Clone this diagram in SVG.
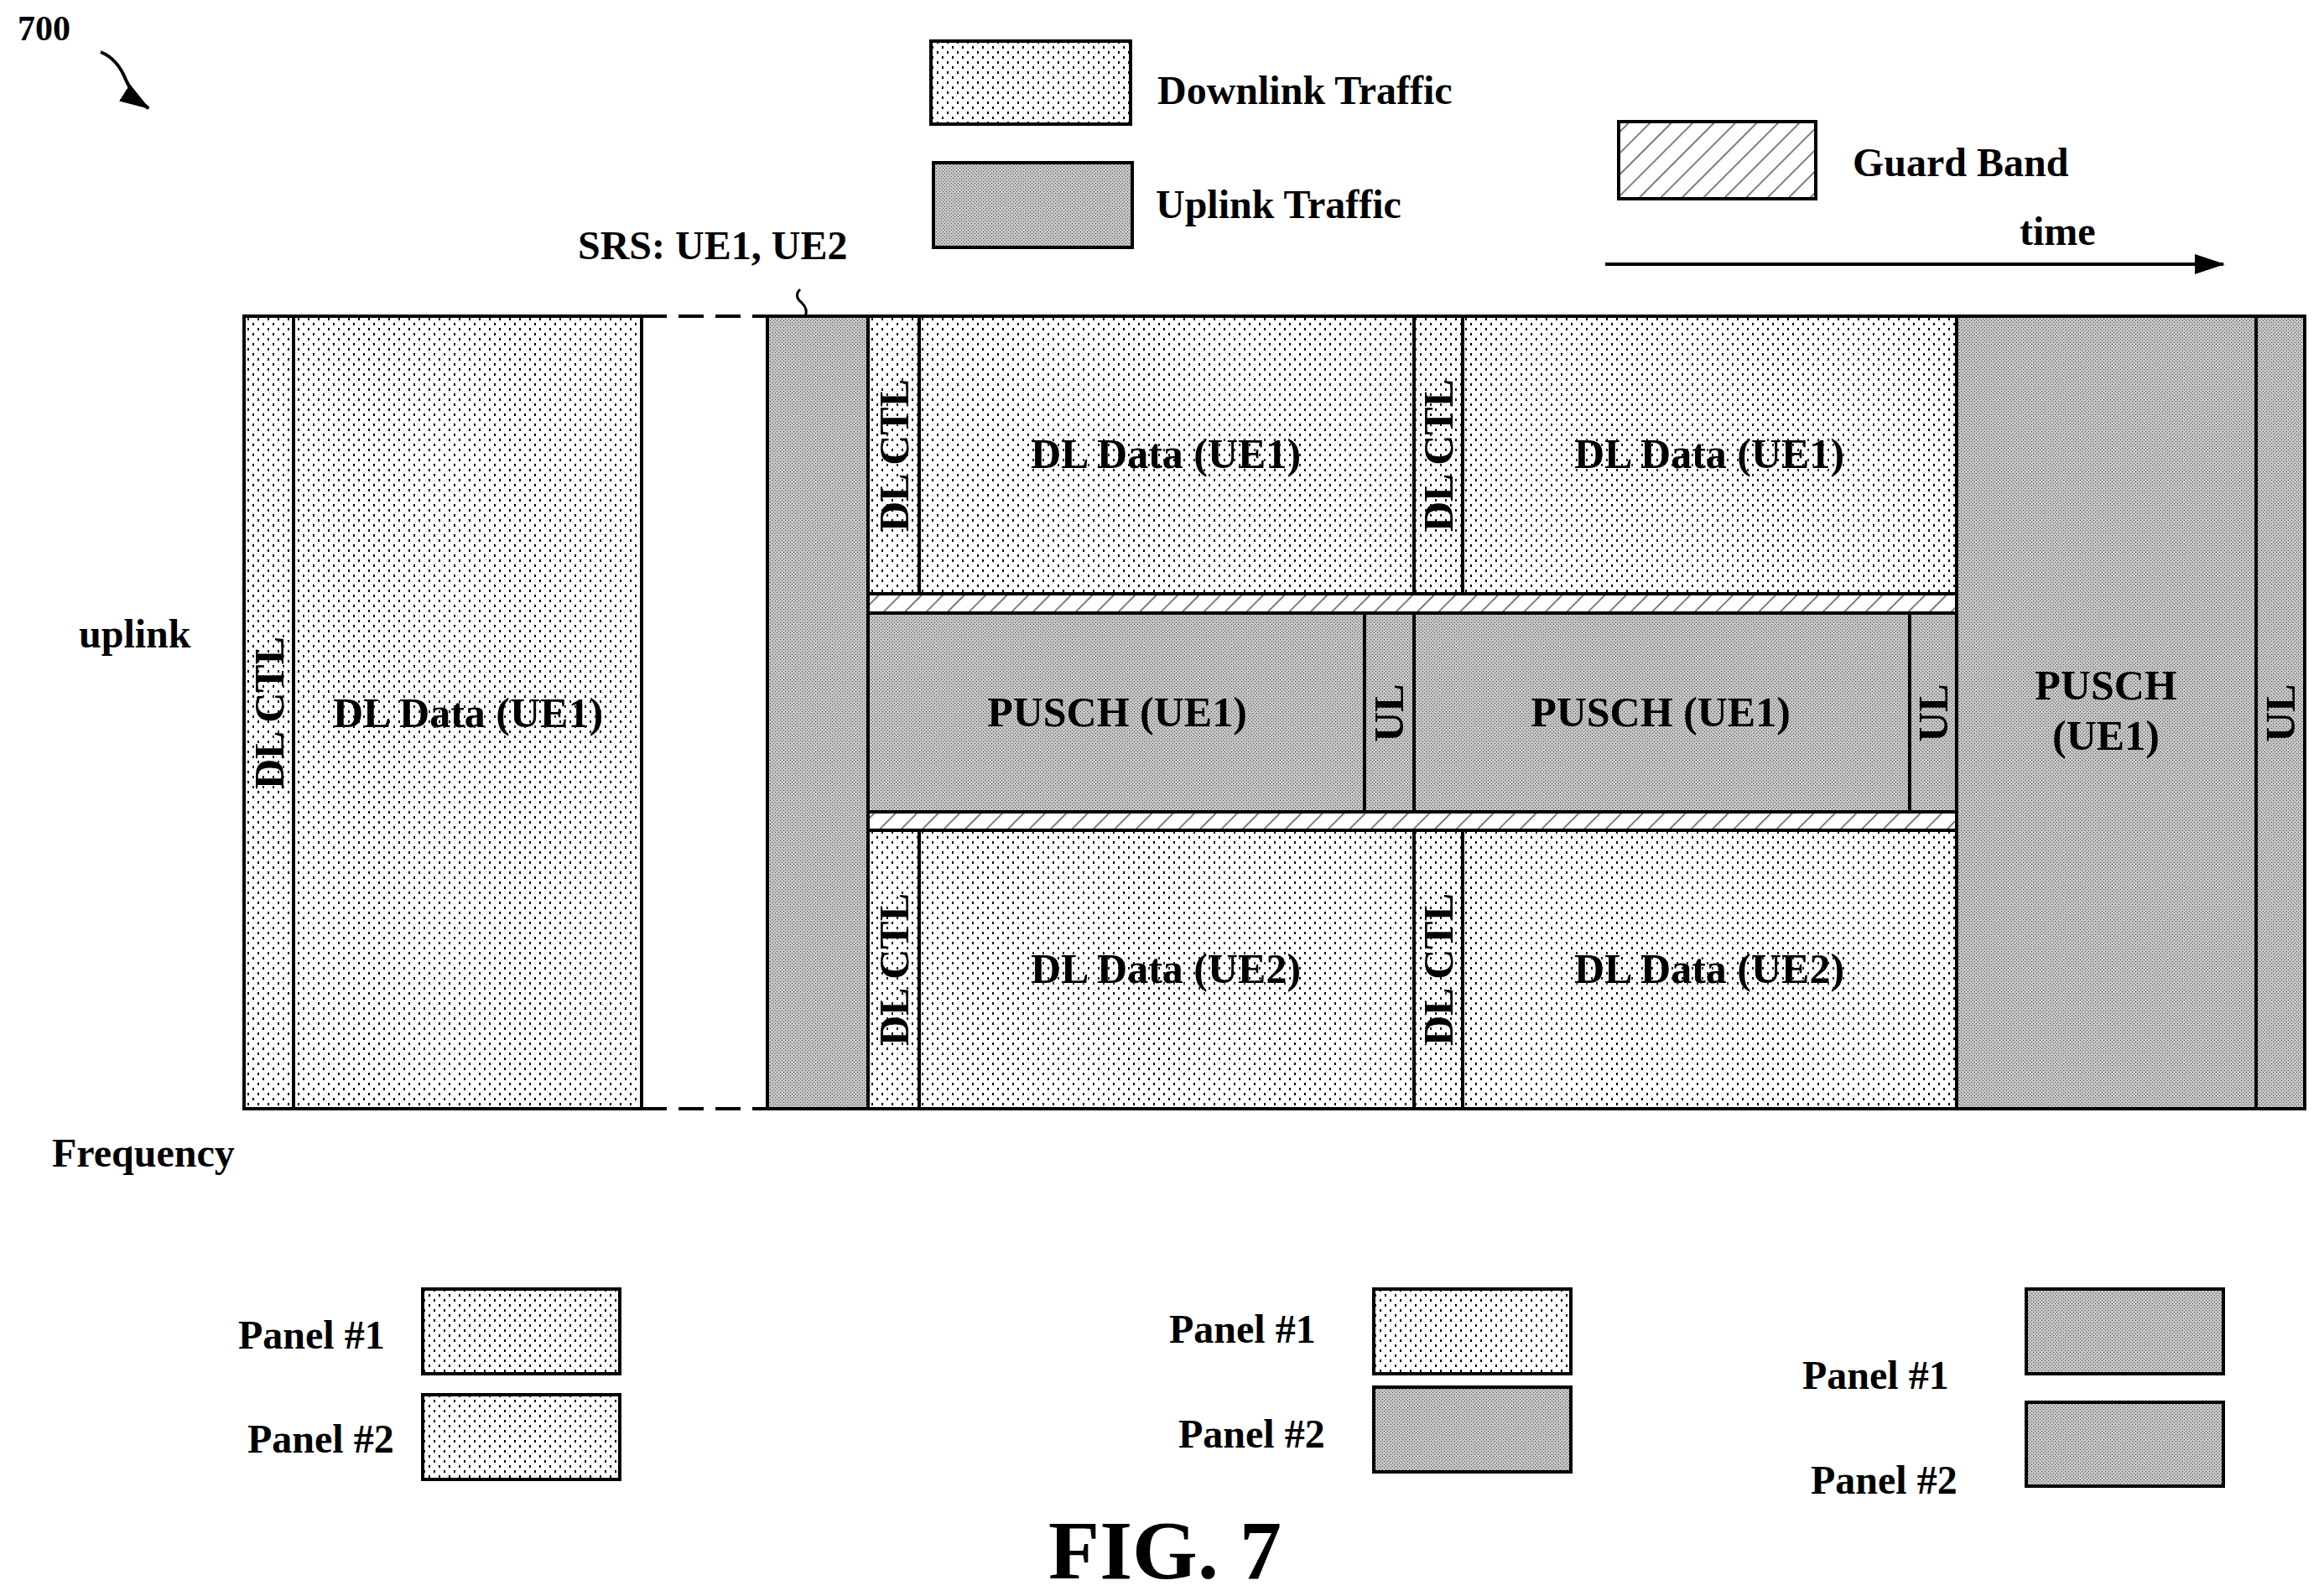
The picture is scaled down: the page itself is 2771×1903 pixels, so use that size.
<svg xmlns="http://www.w3.org/2000/svg" width="2771" height="1903" viewBox="0 0 2771 1903">
<style>
text{font-family:"Liberation Serif",serif;font-weight:bold;fill:#000}
.l{font-size:48px}
.c{font-size:50px;text-anchor:middle}
.dl{fill:url(#dots);stroke:#000;stroke-width:4}
.ul{fill:url(#dark);stroke:#000;stroke-width:4}
.gb{fill:url(#hatch);stroke:#000;stroke-width:4}
</style>
<defs>
<pattern id="dots" width="12" height="12" patternUnits="userSpaceOnUse">
<rect width="12" height="12" fill="#fff"/>
<rect x="1" y="1" width="2" height="3" fill="#000"/>
<rect x="7" y="7" width="2" height="3" fill="#000"/>
</pattern>
<pattern id="dark" width="4" height="4" patternUnits="userSpaceOnUse">
<rect width="4" height="4" fill="#c4c4c4"/>
<rect x="0" y="0" width="1" height="1" fill="#555"/>
<rect x="2" y="2" width="1" height="1" fill="#555"/>
</pattern>
<pattern id="hatch" width="18" height="18" patternUnits="userSpaceOnUse" patternTransform="rotate(45)">
<rect width="18" height="18" fill="#fff"/>
<rect x="0" y="0" width="1.5" height="18" fill="#555"/>
</pattern>
<marker id="ah" markerWidth="36" markerHeight="24" refX="34" refY="12" orient="auto" markerUnits="userSpaceOnUse" viewBox="0 0 36 24">
<path d="M0,0 L36,12 L0,24 z" fill="#000"/>
</marker>
</defs>

<g id="ref700">
<text x="21" y="48" style="font-size:42px">700</text>
</g>

<g id="legend">
<rect class="dl" x="1110" y="49" width="238" height="99"/>
<text class="l" x="1380" y="124">Downlink Traffic</text>
<rect class="ul" x="1113" y="194" width="237" height="101"/>
<text class="l" x="1378" y="260">Uplink Traffic</text>
<rect class="gb" x="1930" y="145" width="235" height="92"/>
<text class="l" x="2209" y="210">Guard Band</text>
<text class="l" x="2408" y="292">time</text>
<text class="l" x="689" y="309">SRS: UE1, UE2</text>
<text class="l" x="94" y="772">uplink</text>
<text class="l" x="62" y="1391">Frequency</text>
</g>

<g id="left-block">
<rect class="dl" x="291" y="377" width="59" height="945"/>
<text class="c" transform="translate(338,850) rotate(-90)">DL CTL</text>
<rect class="dl" x="350" y="377" width="415" height="945"/>
<text class="c" x="558" y="867">DL Data (UE1)</text>
</g>

<g id="srs"><rect class="ul" x="915" y="377" width="120" height="945"/></g>

<g id="top-row">
<rect class="dl" x="1035" y="377" width="61" height="331"/>
<text class="c" transform="translate(1083,543) rotate(-90)">DL CTL</text>
<rect class="dl" x="1096" y="377" width="590" height="331"/>
<text class="c" x="1390" y="558">DL Data (UE1)</text>
<rect class="dl" x="1686" y="377" width="58" height="331"/>
<text class="c" transform="translate(1732,543) rotate(-90)">DL CTL</text>
<rect class="dl" x="1744" y="377" width="589" height="331"/>
<text class="c" x="2038" y="558">DL Data (UE1)</text>
</g>

<g id="guard1"><rect class="gb" x="1035" y="708" width="1298" height="23"/></g>

<g id="mid-row">
<rect class="ul" x="1035" y="731" width="592" height="237"/>
<text class="c" x="1332" y="866">PUSCH (UE1)</text>
<rect class="ul" x="1627" y="731" width="59" height="237"/>
<text class="c" transform="translate(1673,850) rotate(-90)">UL</text>
<rect class="ul" x="1686" y="731" width="591" height="237"/>
<text class="c" x="1980" y="866">PUSCH (UE1)</text>
<rect class="ul" x="2277" y="731" width="56" height="237"/>
<text class="c" transform="translate(2322,850) rotate(-90)">UL</text>
</g>

<g id="guard2"><rect class="gb" x="1035" y="968" width="1298" height="22"/></g>

<g id="bottom-row">
<rect class="dl" x="1035" y="990" width="61" height="332"/>
<text class="c" transform="translate(1083,1156) rotate(-90)">DL CTL</text>
<rect class="dl" x="1096" y="990" width="590" height="332"/>
<text class="c" x="1390" y="1172">DL Data (UE2)</text>
<rect class="dl" x="1686" y="990" width="58" height="332"/>
<text class="c" transform="translate(1732,1156) rotate(-90)">DL CTL</text>
<rect class="dl" x="1744" y="990" width="589" height="332"/>
<text class="c" x="2038" y="1172">DL Data (UE2)</text>
</g>

<g id="right-block">
<rect class="ul" x="2333" y="377" width="357" height="945"/>
<text class="c" x="2511" y="834">PUSCH</text>
<text class="c" x="2511" y="894">(UE1)</text>
<rect class="ul" x="2690" y="377" width="58" height="945"/>
<text class="c" transform="translate(2736,850) rotate(-90)">UL</text>
</g>

<g id="connectors" fill="none" stroke="#000" stroke-width="4">
<path d="M765,377 H915 M765,1322 H915" stroke-dasharray="30,14"/>
<path d="M954,345 q-8,8 2,16 q8,8 4,16" stroke-width="3"/>
<path d="M1914,315 H2651" marker-end="url(#ah)"/>
<path d="M120,62 Q140,70 150,95 Q160,118 177,129" stroke-width="4" marker-end="url(#ah)"/>
</g>

<g id="panels">
<text class="l" x="284" y="1608">Panel #1</text>
<rect class="dl" x="504" y="1537" width="235" height="101"/>
<text class="l" x="295" y="1732">Panel #2</text>
<rect class="dl" x="504" y="1663" width="235" height="101"/>
<text class="l" x="1394" y="1601">Panel #1</text>
<rect class="dl" x="1638" y="1537" width="235" height="101"/>
<text class="l" x="1405" y="1726">Panel #2</text>
<rect class="ul" x="1638" y="1654" width="235" height="101"/>
<text class="l" x="2149" y="1656">Panel #1</text>
<rect class="ul" x="2416" y="1537" width="235" height="101"/>
<text class="l" x="2159" y="1781">Panel #2</text>
<rect class="ul" x="2416" y="1672" width="235" height="100"/>
</g>

<text x="1389" y="1882" style="font-size:100px;text-anchor:middle">FIG. 7</text>
</svg>
